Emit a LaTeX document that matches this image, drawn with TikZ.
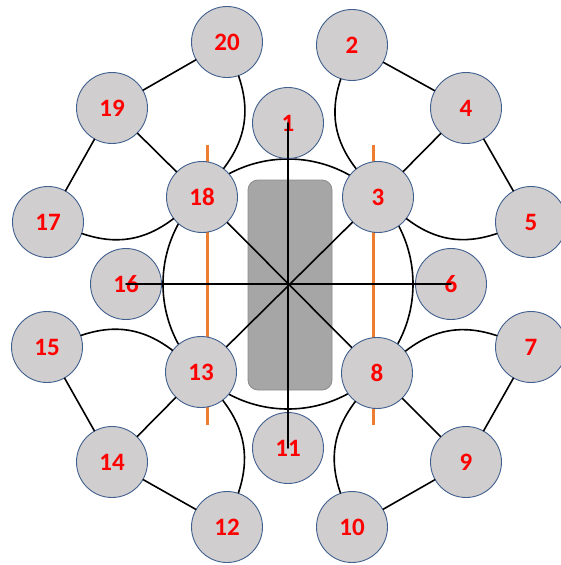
\documentclass[tikz,border=0pt]{standalone}
\usepackage{fontspec}
\setmainfont{Carlito}
\definecolor{knotfill}{HTML}{D0CECE}
\definecolor{knotline}{HTML}{41608F}
\definecolor{slab}{HTML}{A6A6A6}
\definecolor{slabline}{HTML}{8A8A8A}
\definecolor{rail}{HTML}{ED7D31}
\tikzset{
  knot/.style={circle, draw=knotline, line width=0.9pt, fill=knotfill, minimum size=71pt, inner sep=0pt, text=red, font=\fontsize{25}{25}\selectfont\bfseries},
  link/.style={black, line width=1.6pt}
}
\begin{document}
\begin{tikzpicture}[x=1pt, y=-1pt, line join=round, line cap=round]
			\useasboundingbox (0,0) rectangle (560,565);
			\def \cx{288} %tâm
			\def \cy{284}
			\def \R{125}
			\draw[link] (\cx,\cy) circle (\R);
			\draw[fill=slab, draw=slabline, line width=0.8pt, rounded corners=10pt] (248,180) rectangle (332,390);
			\draw[rail, line width=3pt, line cap=butt] (207,145)--(207,425) (373,145)--(373,425);
			% cac nut
			\node[knot] (n1) at (288,123) {1};
			\node[knot] (n2) at (352,45) {2};
			\node[knot] (n3) at (378,197) {3};
			\node[knot] (n4) at (466,108) {4};
			\node[knot] (n5) at (531,222) {5};
			\node[knot] (n6) at (451,284) {6};
			\node[knot] (n7) at (531,347) {7};
			\node[knot] (n8) at (377,373) {8};
			\node[knot] (n9) at (466,462) {9};
			\node[knot] (n10) at (352,527) {10};
			\node[knot] (n11) at (288,448) {11};
			\node[knot] (n12) at (227,527) {12};
			\node[knot] (n13) at (201,372) {13};
			\node[knot] (n14) at (112,462) {14};
			\node[knot] (n15) at (47,347) {15};
			\node[knot] (n16) at (126,284) {16};
			\node[knot] (n17) at (48,222) {17};
			\node[knot] (n18) at (202,197) {18};
			\node[knot] (n19) at (112,108) {19};
			\node[knot] (n20) at (227,42) {20};
			% canh
			\draw[link] (n18)--(n8) (n3)--(n13);
			\draw[link] (n20)--(n19)--(n17) (n19)--(n18);
			\draw[link] (n2)--(n4)--(n5) (n4)--(n3);
			\draw[link] (n7)--(n9)--(n10) (n9)--(n8);
			\draw[link] (n15)--(n14)--(n12) (n14)--(n13);
			\draw[link] (n20) to[bend left=28] (n18);
			\draw[link] (n17) to[bend right=28] (n18);
			\draw[link] (n2) to[bend right=28] (n3);
			\draw[link] (n3) to[bend right=28] (n5);
			\draw[link] (n8) to[bend left=28] (n7);
			\draw[link] (n8) to[bend right=28] (n10);
			\draw[link] (n13) to[bend right=28] (n15);
			\draw[link] (n13) to[bend left=28] (n12);
			\draw[link] (n1.center)--(n11.center) (n16.center)--(n6.center);
		\end{tikzpicture}
\end{document}
